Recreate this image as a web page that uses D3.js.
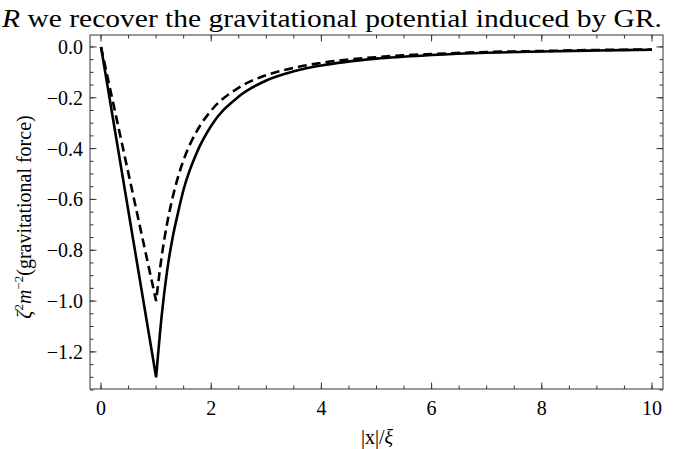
<!DOCTYPE html>
<html>
<head>
<meta charset="utf-8">
<script src="https://cdn.jsdelivr.net/npm/d3@7"></script>
<style>
body { margin: 0; background: #fff; }
svg text { font-family: "Liberation Serif", serif; fill: #000; }
</style>
</head>
<body>
<div id="chart"></div>
<script>
// values (inside the sphere the force is linear, outside it decays)
var x_vals = [0, 1, 1.1, 1.2, 1.3, 1.4, 1.5, 1.75, 2, 2.5, 3, 3.5, 4, 5, 6, 7, 8, 9, 10];
var solid_vals = [0, -1.3, -1.06, -0.88, -0.75, -0.65, -0.56, -0.41, -0.31, -0.195, -0.132, -0.096, -0.073, -0.046, -0.032, -0.023, -0.018, -0.014, -0.011];
var dashed_vals = [0, -1.0, -0.826, -0.694, -0.592, -0.51, -0.444, -0.327, -0.25, -0.16, -0.111, -0.082, -0.0625, -0.04, -0.028, -0.02, -0.016, -0.012, -0.01];

var x_ticks = [0, 2, 4, 6, 8, 10];
var y_ticks = [0, -0.2, -0.4, -0.6, -0.8, -1.0, -1.2];
var x_minor = d3.range(0, 10.01, 0.5);
var y_minor = d3.range(0, -1.36, -0.05);

var graph_w = 676;
var graph_h = 449;
var f_left = 90, f_right = 663, f_top = 35, f_bottom = 389;

var x_ax = d3.scaleLinear()
  .domain([-0.2, 10.2])
  .range([f_left, f_right]);
var y_ax = d3.scaleLinear()
  .domain([0.047, -1.346])
  .range([f_top, f_bottom]);

var svg_obj = d3.select("#chart").append("svg")
  .attr("width", graph_w)
  .attr("height", graph_h);

// title line (fragment of surrounding text)
var title = svg_obj.append("text")
  .attr("x", 2)
  .attr("y", 27)
  .attr("font-family", "Liberation Serif")
  .attr("font-size", 25)
  .attr("textLength", 660)
  .attr("lengthAdjust", "spacingAndGlyphs");
title.append("tspan").attr("font-style", "italic").text("R");
title.append("tspan").text(" we recover the gravitational potential induced by GR.");

// frame
svg_obj.append("rect")
  .attr("x", f_left)
  .attr("y", f_top)
  .attr("width", f_right - f_left)
  .attr("height", f_bottom - f_top)
  .attr("fill", "none")
  .attr("stroke", "#333")
  .attr("stroke-width", 1);

// ticks drawn inward on all four sides
function tick_lines(vals, len, axis) {
  vals.forEach(function(v) {
    if (axis == "x") {
      var px = x_ax(v);
      svg_obj.append("line").attr("x1", px).attr("x2", px).attr("y1", f_bottom).attr("y2", f_bottom - len).attr("stroke", "#333");
      svg_obj.append("line").attr("x1", px).attr("x2", px).attr("y1", f_top).attr("y2", f_top + len).attr("stroke", "#333");
    } else {
      var py = y_ax(v);
      svg_obj.append("line").attr("x1", f_left).attr("x2", f_left + len).attr("y1", py).attr("y2", py).attr("stroke", "#333");
      svg_obj.append("line").attr("x1", f_right).attr("x2", f_right - len).attr("y1", py).attr("y2", py).attr("stroke", "#333");
    }
  });
}
tick_lines(x_minor, 3.5, "x");
tick_lines(x_ticks, 6.5, "x");
tick_lines(y_minor, 3.5, "y");
tick_lines(y_ticks, 6.5, "y");

svg_obj.selectAll(".xlab")
  .data(x_ticks)
  .enter()
    .append("text")
    .attr("class", "xlab")
    .attr("x", function(d) { return x_ax(d); })
    .attr("y", 415)
    .attr("text-anchor", "middle")
    .attr("font-size", 20)
    .text(function(d) { return String(d); });

svg_obj.selectAll(".ylab")
  .data(y_ticks)
  .enter()
    .append("text")
    .attr("class", "ylab")
    .attr("x", 83)
    .attr("y", function(d) { return y_ax(d) + 7; })
    .attr("text-anchor", "end")
    .attr("font-size", 20)
    .text(function(d) { return d3.format(".1f")(d).replace("-", "\u2212"); });

// axis labels
var xl = svg_obj.append("text")
  .attr("x", 377)
  .attr("y", 444)
  .attr("text-anchor", "middle")
  .attr("font-size", 20);
xl.append("tspan").text("|x|/");
xl.append("tspan").attr("font-style", "italic").text("\u03be");

var yl = svg_obj.append("text")
  .attr("transform", "translate(31,217) rotate(-90)")
  .attr("text-anchor", "middle")
  .attr("font-size", 20);
yl.append("tspan").attr("font-style", "italic").text("\u03b6");
yl.append("tspan").attr("font-size", 13).attr("dy", -8).text("2");
yl.append("tspan").attr("font-style", "italic").attr("dy", 8).text("m");
yl.append("tspan").attr("font-size", 13).attr("dy", -8).text("\u22122");
yl.append("tspan").attr("dy", 8).text("(gravitational force)");

var line_in = d3.line()
  .x(function(d) { return x_ax(d[0]); })
  .y(function(d) { return y_ax(d[1]); });
var line_out = d3.line()
  .x(function(d) { return x_ax(d[0]); })
  .y(function(d) { return y_ax(d[1]); })
  .curve(d3.curveMonotoneX);

// straight inner branch up to x=1, smooth outer branch after the cusp
function branch_path(vals) {
  var p = x_vals.map(function(x, i) { return [x, vals[i]]; });
  var inner = p.filter(function(d) { return d[0] <= 1; });
  var outer = p.filter(function(d) { return d[0] >= 1; });
  return line_in(inner) + line_out(outer).replace(/^M[^A-Z]*/, function(m) { return "L" + m.slice(1); });
}

svg_obj.append("path")
  .attr("d", branch_path(dashed_vals))
  .attr("fill", "none")
  .attr("stroke", "#000")
  .attr("stroke-width", 2.6)
  .attr("stroke-linejoin", "miter")
  .attr("stroke-dasharray", "9,5");

svg_obj.append("path")
  .attr("d", branch_path(solid_vals))
  .attr("fill", "none")
  .attr("stroke", "#000")
  .attr("stroke-width", 2.6)
  .attr("stroke-linejoin", "miter");
</script>
</body>
</html>
